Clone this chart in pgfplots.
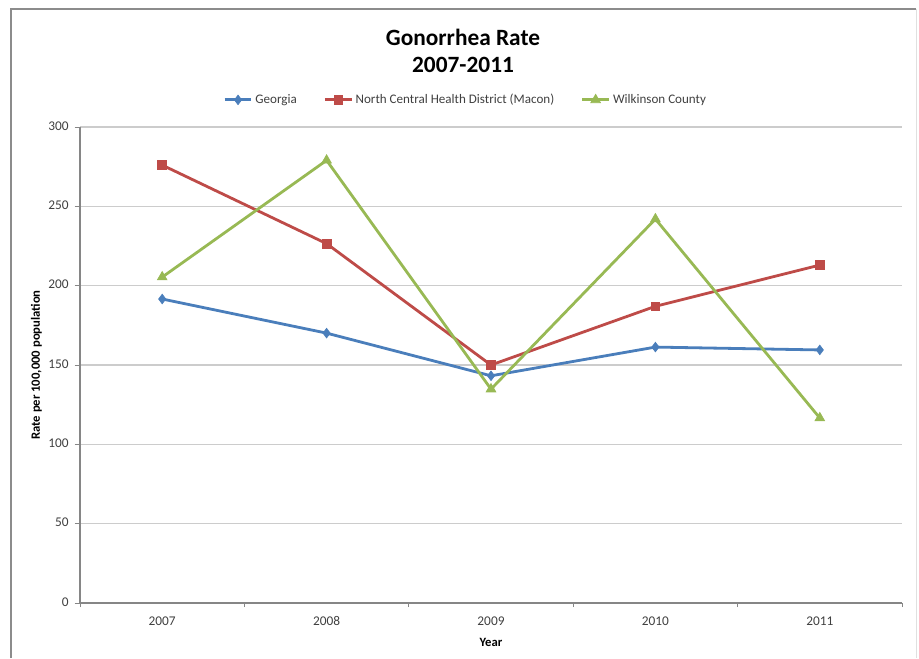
\documentclass[border=0pt]{standalone}
\usepackage{pgfplots}
\pgfplotsset{compat=1.18}
\usepackage{fontspec}
\setmainfont{Carlito}
\definecolor{geo}{HTML}{4A7EBB}
\definecolor{nchd}{HTML}{BE4B48}
\definecolor{wil}{HTML}{98B954}
\definecolor{txt}{HTML}{404040}
\definecolor{axc}{HTML}{868686}
\definecolor{grd}{HTML}{CCCCCC}
\begin{document}
\begin{tikzpicture}
\useasboundingbox (0pt,0pt) rectangle (689.25pt,-493.5pt);
\draw[line width=1.5pt, color=black!45] (8.25pt,-493.5pt) -- (8.25pt,-6.75pt) -- (687pt,-6.75pt);
\draw[line width=0.6pt, color=black!12] (687pt,-6.75pt) -- (687pt,-493.5pt);
\node[font=\bfseries\fontsize{17.5}{20.5}\selectfont, align=center, text=black] at (347.25pt,-38pt) {Gonorrhea Rate\\2007-2011};
\begin{axis}[
  at={(60pt,-452.25pt)}, anchor=south west,
  scale only axis, width=616.5pt, height=357pt,
  xmin=-0.5, xmax=4.5, ymin=0, ymax=300,
  ytick={0,50,...,300},
  xtick={0,1,2,3,4},
  xticklabels={2007,2008,2009,2010,2011},
  minor xtick={-0.5,0.5,1.5,2.5,3.5,4.5},
  major x tick style={draw=none},
  minor x tick style={draw=axc, line width=0.6pt},
  major y tick style={draw=axc, line width=0.6pt},
  tick align=outside,
  major tick length=4pt, minor tick length=3pt,
  axis lines*=left,
  axis line style={draw=axc, line width=0.8pt},
  ymajorgrids, grid style={draw=grd, line width=0.8pt},
  ticklabel style={font=\fontsize{10}{12}\selectfont, text=txt},
  typeset ticklabels with strut,
  /pgf/number format/assume math mode=true,
  xticklabel style={yshift=-1pt},
  yticklabel style={xshift=-1pt},
  xtick pos=bottom, ytick pos=left,
  xlabel={Year}, ylabel={Rate per 100,000 population},
  label style={font=\bfseries\fontsize{9.5}{11}\selectfont, text=black},
  xlabel style={yshift=1pt},
  ylabel style={yshift=-2pt},
  clip=false,
  legend style={at={(0.4696,1.057)}, anchor=center, draw=none, fill=none,
    font=\fontsize{9.8}{11}\selectfont, text=txt, legend columns=3,
    /tikz/every even column/.append style={column sep=18pt}},
  legend image code/.code={
    \draw[mark repeat=2,mark phase=2] plot coordinates {(0pt,0pt) (10pt,0pt) (20pt,0pt)};},
  every axis plot/.append style={line width=2.1pt},
]
\addplot[color=geo, mark=diamond*, mark size=3.6pt, mark options={fill=geo, line width=0.5pt}] coordinates {(0,191.6) (1,170.1) (2,143.2) (3,161.3) (4,159.5)};
\addlegendentry{Georgia}
\addplot[color=nchd, mark=square*, mark size=3.3pt, mark options={fill=nchd, line width=0.5pt}] coordinates {(0,276) (1,226.5) (2,150) (3,187) (4,213)};
\addlegendentry{North Central Health District (Macon)}
\addplot[color=wil, mark=triangle*, mark size=4.2pt, mark options={fill=wil, line width=0.5pt}] coordinates {(0,205.4) (1,279) (2,134.8) (3,242) (4,116.6)};
\addlegendentry{Wilkinson County}
\end{axis}
\end{tikzpicture}
\end{document}
